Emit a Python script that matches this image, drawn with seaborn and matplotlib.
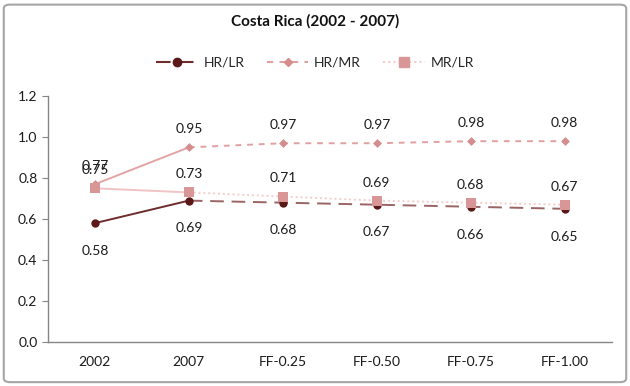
import matplotlib
matplotlib.use("Agg")
import matplotlib.pyplot as plt
from matplotlib.lines import Line2D
from matplotlib.patches import FancyBboxPatch
import seaborn as sns
import pandas as pd

# chart data
categories = ["2002", "2007", "FF-0.25", "FF-0.50", "FF-0.75", "FF-1.00"]
hr_lr = [0.58, 0.69, 0.68, 0.67, 0.66, 0.65]
hr_mr = [0.77, 0.95, 0.97, 0.97, 0.98, 0.98]
mr_lr = [0.75, 0.73, 0.71, 0.69, 0.68, 0.67]

sns.set_style("white")
plt.rcParams["font.family"] = ["Lato", "DejaVu Sans"]

fig = plt.figure(figsize=(6.3, 3.86), dpi=100)
ax = fig.add_axes([0.076, 0.114, 0.895, 0.637])

# series styling: (values, marker colour, solid colour, dashed colour, dash pattern, marker, size, label offset)
series = {
    "HR/LR": (hr_lr, "#5a1818", "#6e2c2c", "#9a6464", (7, 4), "o", 6, -20),
    "HR/MR": (hr_mr, "#d48c8c", "#e2a4a4", "#e0a0a0", (3, 3), "D", 4.5, 13),
    "MR/LR": (mr_lr, "#d99696", "#f0c4c4", "#f5cccc", (1, 1.5), "s", 7, 13),
}

for name, (vals, mcol, scol, dcol, dash, mk, ms, off) in series.items():
    df = pd.DataFrame({"x": range(len(categories)), "y": vals})
    # observed segment 2002 -> 2007 is solid, projections are dashed
    sns.lineplot(data=df.iloc[:2], x="x", y="y", ax=ax, color=scol, linewidth=1.4)
    sns.lineplot(data=df.iloc[1:], x="x", y="y", ax=ax, color=dcol, linewidth=1.4,
                 dashes=False, linestyle=(0, dash))
    sns.scatterplot(data=df, x="x", y="y", ax=ax, color=mcol, marker=mk,
                    s=ms ** 2, edgecolor=mcol, linewidth=0, zorder=5)
    for xi, v in zip(df["x"], df["y"]):
        ax.annotate(f"{v:.2f}", (xi, v), xytext=(0, off), textcoords="offset points",
                    ha="center", va="center", fontsize=10, color="#1a1a1a")

ax.set_xlim(-0.5, len(categories) - 0.5)
ax.set_ylim(0, 1.2)
ax.set_xticks(range(len(categories)))
ax.set_xticklabels(categories)
ax.set_yticks([0, 0.2, 0.4, 0.6, 0.8, 1.0, 1.2])
ax.set_yticklabels([f"{t:.1f}" for t in [0, 0.2, 0.4, 0.6, 0.8, 1.0, 1.2]])
ax.set_xlabel("")
ax.set_ylabel("")
ax.tick_params(axis="both", labelsize=10, colors="#1a1a1a")
ax.tick_params(axis="y", length=4, color="#868686", direction="out", left=True)
ax.tick_params(axis="x", length=0, pad=10)
for s in ["top", "right"]:
    ax.spines[s].set_visible(False)
for s in ["left", "bottom"]:
    ax.spines[s].set_color("#868686")
    ax.spines[s].set_linewidth(1.0)

fig.text(0.5, 0.945, "Costa Rica (2002 - 2007)", ha="center", va="center",
         fontsize=11, fontweight="bold", color="#111111")

handles = [
    Line2D([0], [0], color="#6e2c2c", linestyle=(0, (7, 4)), marker="o",
           markersize=6, markerfacecolor="#5a1818", markeredgecolor="#5a1818"),
    Line2D([0], [0], color="#e0a0a0", linestyle=(0, (3, 3)), marker="D",
           markersize=4.5, markerfacecolor="#d48c8c", markeredgecolor="#d48c8c"),
    Line2D([0], [0], color="#f5cccc", linestyle=(0, (1, 1.5)), marker="s",
           markersize=6.5, markerfacecolor="#d99696", markeredgecolor="#d99696"),
]
fig.legend(handles, list(series.keys()), loc="center", bbox_to_anchor=(0.5, 0.838),
           ncol=3, frameon=False, fontsize=10, handlelength=3.0, columnspacing=1.6,
           handletextpad=0.4)

border = FancyBboxPatch((0.006, 0.01), 0.988, 0.978, boxstyle="round,pad=0,rounding_size=0.01",
                        transform=fig.transFigure, facecolor="none", edgecolor="#a6a6a6",
                        linewidth=1.5)
fig.patches.append(border)

fig.savefig("out.png", dpi=100)
